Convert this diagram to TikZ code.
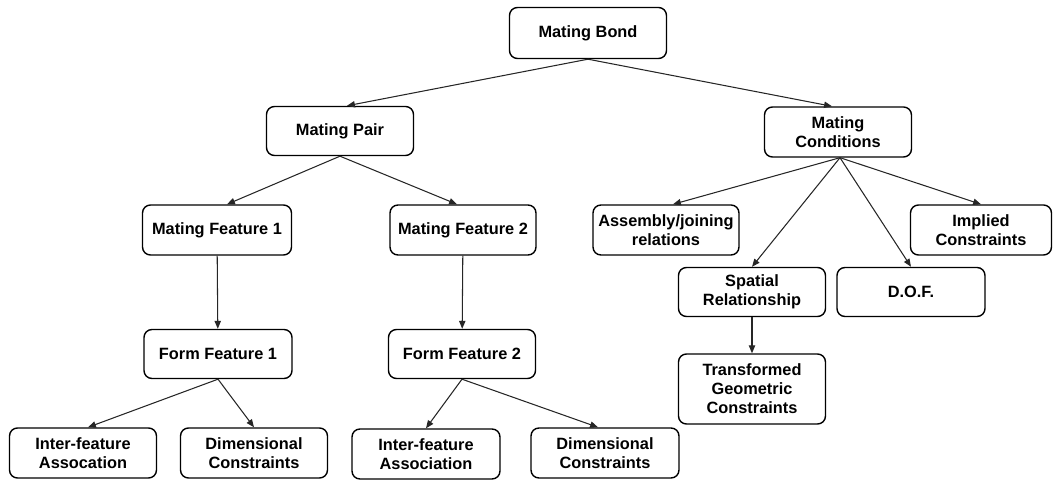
\documentclass[tikz,border=0pt]{standalone}
\usepackage{fontspec}
\setmainfont{Liberation Sans}
\usetikzlibrary{arrows.meta}

\tikzset{
  box/.style={draw, line width=0.8pt, rounded corners=4.5pt, align=center,
    font=\bfseries\fontsize{9.3}{10.8}\selectfont,
    minimum width=2.94cm, minimum height=1cm, inner sep=1pt},
  link/.style={-{Triangle[length=4.5pt,width=3.6pt]}, line width=0.6pt, black!85}
}

\begin{document}
\begin{tikzpicture}[x=0.02cm,y=-0.02cm]
  \useasboundingbox (0,0) rectangle (1059,482);
  % top
  \node[box, minimum width=3.14cm, minimum height=1.02cm] (bond) at (588,33) {Mating Bond};
  \node[box, minimum height=0.98cm] (pair) at (340,131) {Mating Pair};
  \node[box] (cond) at (838,132) {Mating\\Conditions};
  % mating pair side
  \node[box, minimum width=2.98cm] (mf1) at (217,230) {Mating Feature 1};
  \node[box, minimum width=2.92cm] (mf2) at (463,230) {Mating Feature 2};
  \node[box, minimum width=2.96cm, minimum height=0.98cm] (ff1) at (218,354) {Form Feature 1};
  \node[box, minimum width=2.94cm, minimum height=0.98cm] (ff2) at (462,354) {Form Feature 2};
  \node[box] (ifa1) at (83,453) {Inter-feature\\Assocation};
  \node[box] (dim1) at (254,453) {Dimensional\\Constraints};
  \node[box, minimum width=2.96cm] (ifa2) at (426,454) {Inter-feature\\Association};
  \node[box, minimum width=2.96cm] (dim2) at (605,453) {Dimensional\\Constraints};
  % mating conditions side
  \node[box, minimum width=2.92cm] (asm) at (666,230) {Assembly/joining\\relations};
  \node[box, minimum width=2.82cm] (impl) at (981,230) {Implied\\Constraints};
  \node[box, minimum height=0.98cm] (spat) at (752,292) {Spatial\\Relationship};
  \node[box, minimum width=2.96cm, minimum height=0.98cm] (dof) at (911,292) {D.O.F.};
  \node[box, minimum height=1.4cm] (geo) at (752,389) {Transformed\\Geometric\\Constraints};

  \draw[link] (bond.south) -- ([xshift=0.14cm]pair.north);
  \draw[link] (bond.south) -- ([xshift=-0.12cm]cond.north);
  \draw[link] (pair.south) -- ([xshift=0.2cm]mf1.north);
  \draw[link] (pair.south) -- ([xshift=-0.12cm]mf2.north);
  \draw[link] (mf1) -- (ff1);
  \draw[link] (mf2) -- (ff2);
  \draw[link] (ff1.south) -- ([xshift=0.1cm]ifa1.north);
  \draw[link] (ff1.south) -- (dim1.north);
  \draw[link] (ff2.south) -- (ifa2.north);
  \draw[link] (ff2.south) -- ([xshift=-0.14cm]dim2.north);
  \draw[link] ([xshift=0.04cm]cond.south) -- ([xshift=0.14cm]asm.north);
  \draw[link] ([xshift=0.04cm]cond.south) -- (spat.north);
  \draw[link] ([xshift=0.04cm]cond.south) -- (dof.north);
  \draw[link] ([xshift=0.04cm]cond.south) -- (impl.north);
  \draw[link] (spat) -- (geo);
\end{tikzpicture}
\end{document}
